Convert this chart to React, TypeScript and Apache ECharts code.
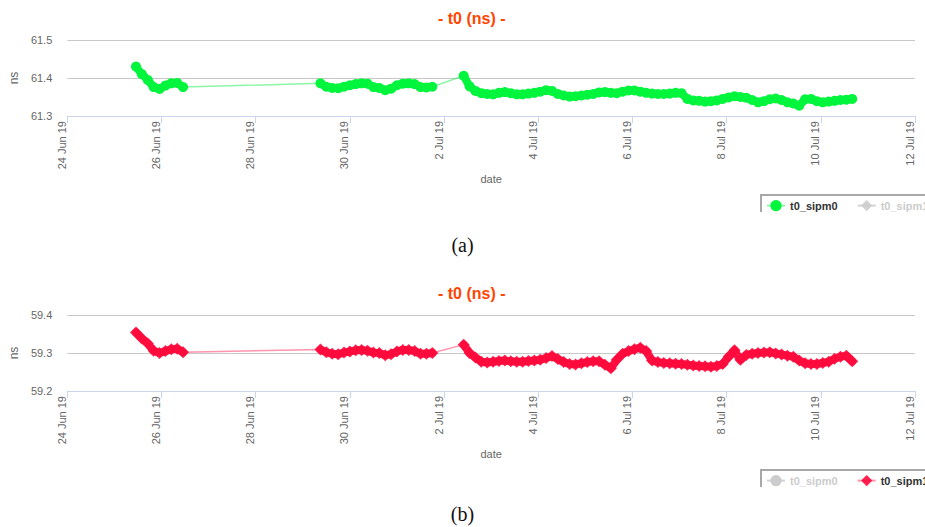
import React, { useEffect, useRef } from "react";
import * as echarts from "echarts";

// ---- data ----
const startTime = "2019-06-24 00:00";
const xTickLabels = ["24 Jun 19", "26 Jun 19", "28 Jun 19", "30 Jun 19", "2 Jul 19", "4 Jul 19", "6 Jul 19", "8 Jul 19", "10 Jul 19", "12 Jul 19"];
const xTickStepDays = 2;

const sampleTimes = [
  "2019-06-25 11:00", "2019-06-25 14:00", "2019-06-25 17:00", "2019-06-25 20:00", "2019-06-25 23:00",
  "2019-06-26 02:00", "2019-06-26 05:00", "2019-06-26 08:00", "2019-06-26 11:00",
  "2019-06-29 09:00", "2019-06-29 12:00", "2019-06-29 15:00", "2019-06-29 18:00", "2019-06-29 21:00",
  "2019-06-30 00:00", "2019-06-30 03:00", "2019-06-30 06:00", "2019-06-30 09:00", "2019-06-30 12:00",
  "2019-06-30 15:00", "2019-06-30 18:00", "2019-06-30 21:00",
  "2019-07-01 00:00", "2019-07-01 03:00", "2019-07-01 06:00", "2019-07-01 09:00", "2019-07-01 12:00",
  "2019-07-01 15:00", "2019-07-01 18:00",
  "2019-07-02 10:00", "2019-07-02 13:00", "2019-07-02 16:00", "2019-07-02 19:00", "2019-07-02 22:00",
  "2019-07-03 01:00", "2019-07-03 04:00", "2019-07-03 07:00", "2019-07-03 10:00", "2019-07-03 13:00",
  "2019-07-03 16:00", "2019-07-03 19:00", "2019-07-03 22:00",
  "2019-07-04 01:00", "2019-07-04 04:00", "2019-07-04 07:00", "2019-07-04 10:00", "2019-07-04 13:00",
  "2019-07-04 16:00", "2019-07-04 19:00", "2019-07-04 22:00",
  "2019-07-05 01:00", "2019-07-05 04:00", "2019-07-05 07:00", "2019-07-05 10:00", "2019-07-05 13:00",
  "2019-07-05 16:00", "2019-07-05 19:00", "2019-07-05 22:00",
  "2019-07-06 01:00", "2019-07-06 04:00", "2019-07-06 07:00", "2019-07-06 10:00", "2019-07-06 13:00",
  "2019-07-06 16:00", "2019-07-06 19:00", "2019-07-06 22:00",
  "2019-07-07 01:00", "2019-07-07 04:00", "2019-07-07 07:00", "2019-07-07 10:00", "2019-07-07 13:00",
  "2019-07-07 16:00", "2019-07-07 19:00", "2019-07-07 22:00",
  "2019-07-08 01:00", "2019-07-08 04:00", "2019-07-08 07:00", "2019-07-08 10:00", "2019-07-08 13:00",
  "2019-07-08 16:00", "2019-07-08 19:00", "2019-07-08 22:00",
  "2019-07-09 01:00", "2019-07-09 04:00", "2019-07-09 07:00", "2019-07-09 10:00", "2019-07-09 13:00",
  "2019-07-09 16:00", "2019-07-09 19:00", "2019-07-09 22:00",
  "2019-07-10 01:00", "2019-07-10 04:00", "2019-07-10 07:00", "2019-07-10 10:00", "2019-07-10 13:00",
  "2019-07-10 16:00",
];

const t0Sipm0 = [
  61.430, 61.410, 61.395, 61.376, 61.371, 61.380, 61.386, 61.387, 61.376,
  61.386, 61.377, 61.374, 61.373, 61.377, 61.381, 61.384, 61.386, 61.385, 61.376,
  61.374, 61.368, 61.372, 61.381, 61.385, 61.386, 61.384, 61.376, 61.375, 61.377,
  61.406, 61.378, 61.366, 61.360, 61.358, 61.357, 61.361, 61.363, 61.360, 61.357,
  61.357, 61.359, 61.361, 61.364, 61.368, 61.366, 61.358, 61.354, 61.351, 61.352,
  61.354, 61.356, 61.358, 61.362, 61.363, 61.361, 61.360, 61.364, 61.367, 61.367,
  61.364, 61.361, 61.359, 61.358, 61.358, 61.359, 61.361, 61.360, 61.345, 61.341,
  61.340, 61.338, 61.339, 61.341, 61.345, 61.349, 61.352, 61.350, 61.348, 61.342,
  61.336, 61.339, 61.344, 61.346, 61.342, 61.336, 61.333, 61.327, 61.344, 61.345,
  61.339, 61.336, 61.338, 61.340, 61.342, 61.343, 61.345,
];

const t0Sipm1 = [
  59.354, 59.338, 59.325, 59.306, 59.300, 59.305, 59.310, 59.311, 59.302,
  59.309, 59.302, 59.298, 59.297, 59.301, 59.304, 59.307, 59.308, 59.306, 59.301,
  59.300, 59.294, 59.297, 59.304, 59.308, 59.308, 59.305, 59.298, 59.298, 59.300,
  59.322, 59.300, 59.288, 59.277, 59.275, 59.277, 59.279, 59.280, 59.278, 59.277,
  59.277, 59.279, 59.280, 59.282, 59.287, 59.292, 59.284, 59.276, 59.271, 59.270,
  59.273, 59.276, 59.278, 59.278, 59.269, 59.260, 59.282, 59.298, 59.305, 59.310,
  59.314, 59.305, 59.280, 59.276, 59.274, 59.273, 59.272, 59.271, 59.269, 59.267,
  59.266, 59.265, 59.264, 59.266, 59.271, 59.290, 59.307, 59.282, 59.295, 59.298,
  59.300, 59.301, 59.302, 59.299, 59.296, 59.293, 59.290, 59.280, 59.273, 59.271,
  59.271, 59.274, 59.277, 59.285, 59.290, 59.293, 59.278,
];

const yTicksA = [61.3, 61.4, 61.5];
const yTicksB = [59.2, 59.3, 59.4];
const seriesNames = ["t0_sipm0", "t0_sipm1"];
const chartTitle = "- t0 (ns) -";

// ---- helpers ----
const DAY = 86400000;
const parseLocal = (s: string) => new Date(s.replace(" ", "T") + ":00").getTime();
const toDays = (s: string) => (parseLocal(s) - parseLocal(startTime)) / DAY;

const FONT = "'Liberation Sans', Arial, Helvetica, sans-serif";

function points(values: number[]) {
  return sampleTimes.map((t, i) => [toDays(t), values[i]]);
}

// same points, broken where the measurement has a gap (for the dense band)
function bandPoints(values: number[]) {
  const out: any[] = [];
  sampleTimes.forEach((t, i) => {
    const x = toDays(t);
    if (i > 0) {
      const px = toDays(sampleTimes[i - 1]);
      if (x - px > 0.5) out.push([(x + px) / 2, null]);
    }
    out.push([x, values[i]]);
  });
  return out;
}

function buildOption(yTicks: number[], selected: Record<string, boolean>) {
  return {
    animation: false,
    backgroundColor: "#ffffff",
    title: {
      text: chartTitle,
      left: 433,
      top: 5,
      textStyle: { color: "#FF4500", fontSize: 16, fontWeight: "bold", fontFamily: FONT },
    },
    legend: {
      data: seriesNames,
      selected,
      left: 761,
      top: 195,
      width: 400,
      padding: [5, 5],
      itemGap: 19,
      itemWidth: 18,
      itemHeight: 14,
      borderColor: "#a8a8a8",
      borderWidth: 2,
      inactiveColor: "#cccccc",
      textStyle: { fontSize: 11, fontWeight: "bold", color: "#333333", fontFamily: FONT },
    },
    grid: { left: 62, top: 40, width: 853, height: 76 },
    xAxis: {
      type: "value",
      min: 0,
      max: (xTickLabels.length - 1) * xTickStepDays,
      interval: xTickStepDays,
      name: "date",
      nameLocation: "middle",
      nameGap: 48,
      nameTextStyle: { color: "#666666", fontSize: 11, fontFamily: FONT },
      axisLine: { show: true, lineStyle: { color: "#ccd6eb", width: 1 } },
      axisTick: { show: true, length: 7, lineStyle: { color: "#ccd6eb" } },
      splitLine: { show: false },
      axisLabel: {
        rotate: 90,
        margin: 5,
        verticalAlign: "bottom",
        color: "#666666",
        fontSize: 11,
        fontFamily: FONT,
        formatter: (v: number) => xTickLabels[Math.round(v / xTickStepDays)] ?? "",
      },
    },
    yAxis: {
      type: "value",
      min: yTicks[0],
      max: yTicks[yTicks.length - 1],
      interval: 0.1,
      name: "ns",
      nameLocation: "middle",
      nameGap: 42,
      nameRotate: 90,
      nameTextStyle: { color: "#666666", fontSize: 12, fontFamily: FONT },
      axisLine: { show: false },
      axisTick: { show: false },
      splitLine: { show: true, lineStyle: { color: "#c8c8c8", width: 1 } },
      axisLabel: {
        margin: 15,
        color: "#666666",
        fontSize: 11,
        fontFamily: FONT,
        formatter: (v: number) => v.toFixed(1),
      },
    },
    series: [
      {
        name: seriesNames[0],
        type: "line",
        data: points(t0Sipm0),
        symbol: "circle",
        symbolSize: 10,
        showSymbol: true,
        itemStyle: { color: "#00F53C" },
        lineStyle: { color: "rgba(0,235,60,0.45)", width: 1.5 },
        z: 3,
      },
      {
        name: seriesNames[0],
        type: "line",
        data: bandPoints(t0Sipm0),
        showSymbol: false,
        connectNulls: false,
        itemStyle: { color: "#00F53C" },
        lineStyle: { color: "#00F53C", width: 8, cap: "round", join: "round" },
        silent: true,
        z: 2,
      },
      {
        name: seriesNames[1],
        type: "line",
        data: points(t0Sipm1),
        symbol: "diamond",
        symbolSize: 12,
        showSymbol: true,
        itemStyle: { color: "#FF0A3C", opacity: 0.9 },
        lineStyle: { color: "rgba(255,20,70,0.45)", width: 1.5 },
        z: 3,
      },
      {
        name: seriesNames[1],
        type: "line",
        data: bandPoints(t0Sipm1),
        showSymbol: false,
        connectNulls: false,
        itemStyle: { color: "#FF0A3C" },
        lineStyle: { color: "#FF0A3C", width: 8, cap: "round", join: "round", opacity: 0.95 },
        silent: true,
        z: 2,
      },
    ],
  };
}

function TimingChart({ yTicks, selected }: { yTicks: number[]; selected: Record<string, boolean> }) {
  const ref = useRef<HTMLDivElement>(null);
  useEffect(() => {
    if (!ref.current) return;
    const chart = echarts.init(ref.current, undefined, { renderer: "svg" });
    chart.setOption(buildOption(yTicks, selected) as any);
    return () => chart.dispose();
  }, []);
  return (
    <div style={{ width: 925, height: 212, overflow: "hidden", position: "relative" }}>
      <div ref={ref} style={{ width: 1000, height: 240 }} />
    </div>
  );
}

const captionStyle: React.CSSProperties = {
  position: "absolute",
  left: 0,
  width: 925,
  textAlign: "center",
  fontFamily: "'Liberation Serif', 'Times New Roman', serif",
  fontSize: 20,
  lineHeight: "24px",
  color: "#111",
};

export default function App() {
  return (
    <div style={{ position: "absolute", left: 0, top: 0, width: 925, height: 527, background: "#fff", overflow: "hidden" }}>
      <div style={{ position: "absolute", left: 0, top: 0 }}>
        <TimingChart yTicks={yTicksA} selected={{ t0_sipm0: true, t0_sipm1: false }} />
      </div>
      <div style={{ ...captionStyle, top: 233 }}>(a)</div>
      <div style={{ position: "absolute", left: 0, top: 275 }}>
        <TimingChart yTicks={yTicksB} selected={{ t0_sipm0: false, t0_sipm1: true }} />
      </div>
      <div style={{ ...captionStyle, top: 502 }}>(b)</div>
    </div>
  );
}
